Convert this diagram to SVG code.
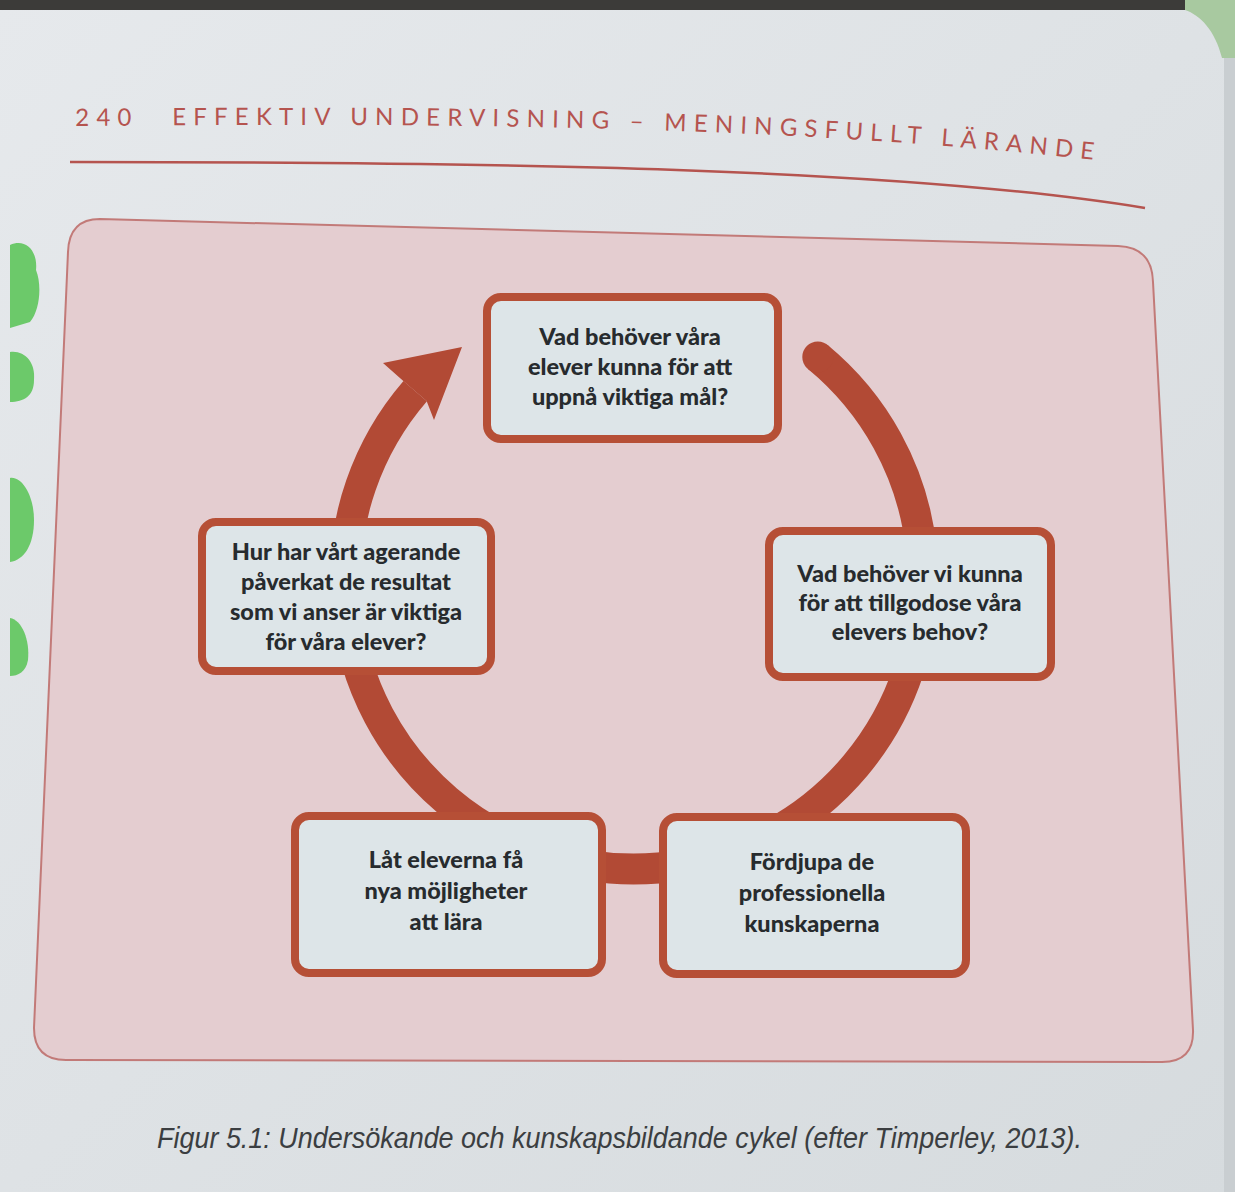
<svg xmlns="http://www.w3.org/2000/svg" width="1235" height="1192" viewBox="0 0 1235 1192">
<defs>
<linearGradient id="page" x1="0" y1="0" x2="1" y2="1">
<stop offset="0" stop-color="#e6e9ec"/>
<stop offset="1" stop-color="#d6dbde"/>
</linearGradient>
<path id="hdr" d="M 75,126 C 500,122 800,128 1095,160"/>
<style>
.node rect{fill:#dde5e8;stroke:#b64f36;stroke-width:8}
.node text{font-family:"Lato","Liberation Sans",sans-serif;font-weight:900;font-size:23.5px;fill:#272b2e;text-anchor:middle}
.hdr{font-family:"Lato","Liberation Sans",sans-serif;font-size:24px;fill:#b5544f;letter-spacing:7.2px}
.ring{fill:none;stroke:#b24a35;stroke-width:31}
</style>
</defs>
<rect width="1235" height="1192" fill="url(#page)"/>
<rect x="0" y="0" width="1235" height="10" fill="#3c3b39"/>
<rect x="1224" y="0" width="11" height="1192" fill="#c9ced1"/>
<path d="M1185,0 L1235,0 L1235,58 L1222,58 C1215,30 1200,15 1185,10 Z" fill="#a8c9a0"/>
<g fill="#6cc96a">
<path d="M10,245 C25,238 38,250 36,270 C42,285 40,310 30,322 L10,328 Z"/>
<path d="M10,352 C24,350 36,362 34,380 C34,396 24,402 10,402 Z"/>
<path d="M10,478 C22,476 34,496 34,520 C34,545 24,560 10,562 Z"/>
<path d="M10,618 C22,620 30,640 28,660 C26,672 18,676 10,676 Z"/>
</g>
<g id="header">
<text class="hdr"><textPath href="#hdr">240</textPath></text>
<text class="hdr"><textPath href="#hdr" startOffset="97">EFFEKTIV UNDERVISNING – MENINGSFULLT LÄRANDE</textPath></text>
<path d="M 70,162 C 500,162 900,168 1145,208" fill="none" stroke="#b5544f" stroke-width="2.5"/>
</g>
<path id="panel" d="M 100,219 L 1118,246 Q 1152,247 1153,282 L 1193,1030 Q 1194,1062 1162,1062 L 66,1060 Q 34,1060 34,1028 L 68,252 Q 69,219 100,219 Z" fill="#e4cdd0" stroke="#c27a78" stroke-width="2"/>
<g id="connectors">
<path class="ring" d="M 817.8,357 A 289 289 0 1 1 415.2,391.2"/>
<circle cx="817.8" cy="357" r="15.5" fill="#b24a35"/>
<polygon points="462,347 383,363 403.9,381.4 426.6,401 434,420" fill="#b24a35"/>
</g>
<g id="node-top" class="node">
<rect x="487" y="297" width="291" height="142" rx="14"/>
<text x="630" y="345">Vad behöver våra</text>
<text x="630" y="375">elever kunna för att</text>
<text x="630" y="405">uppnå viktiga mål?</text>
</g>
<g id="node-right" class="node">
<rect x="769" y="531" width="282" height="146" rx="14"/>
<text x="910" y="582">Vad behöver vi kunna</text>
<text x="910" y="611">för att tillgodose våra</text>
<text x="910" y="640">elevers behov?</text>
</g>
<g id="node-left" class="node">
<rect x="202" y="522" width="289" height="149" rx="14"/>
<text x="346" y="560">Hur har vårt agerande</text>
<text x="346" y="590">påverkat de resultat</text>
<text x="346" y="620">som vi anser är viktiga</text>
<text x="346" y="650">för våra elever?</text>
</g>
<g id="node-bottom-left" class="node">
<rect x="295" y="816" width="307" height="157" rx="14"/>
<text x="446" y="868">Låt eleverna få</text>
<text x="446" y="899">nya möjligheter</text>
<text x="446" y="930">att lära</text>
</g>
<g id="node-bottom-right" class="node">
<rect x="663" y="817" width="303" height="157" rx="14"/>
<text x="812" y="870">Fördjupa de</text>
<text x="812" y="901">professionella</text>
<text x="812" y="932">kunskaperna</text>
</g>
<text id="caption" x="157" y="1148" textLength="925" lengthAdjust="spacingAndGlyphs" font-family="Liberation Sans, sans-serif" font-style="italic" font-size="30" fill="#3b3e41">Figur 5.1: Undersökande och kunskapsbildande cykel (efter Timperley, 2013).</text>
</svg>
